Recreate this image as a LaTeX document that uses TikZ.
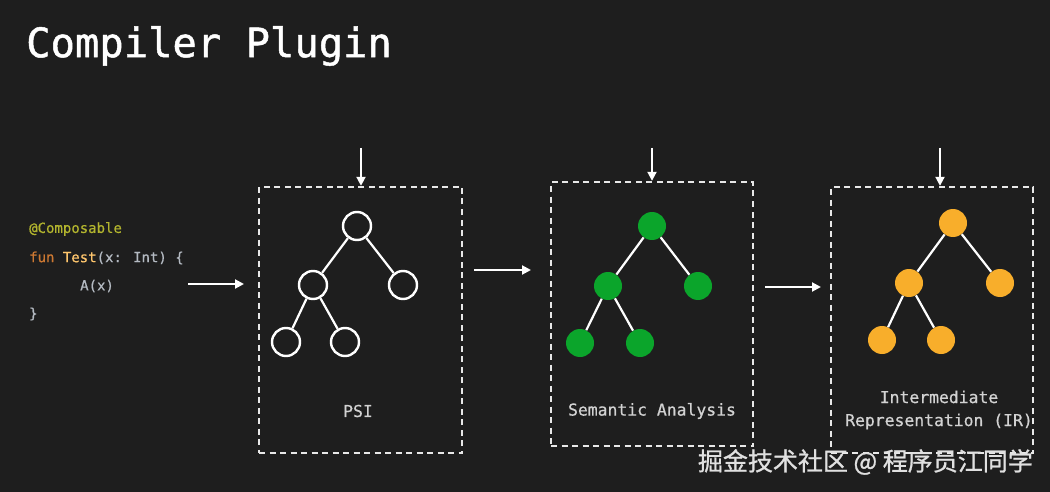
\documentclass[tikz,border=0pt]{standalone}
\usepackage{fontspec}
\setmonofont{DejaVu Sans Mono}
\newfontfamily\titlefont[FakeBold=1.2]{DejaVu Sans Mono}
\newfontfamily\lblfont[FakeBold=0.6]{DejaVu Sans Mono}
\newfontfamily\cjk[FakeBold=1]{Noto Sans CJK SC}
\usetikzlibrary{arrows.meta}
\definecolor{bg}{HTML}{1E1E1E}
\definecolor{codegray}{HTML}{B4BAC2}
\definecolor{lblgray}{HTML}{D2D2D2}
\definecolor{annot}{HTML}{B3B52E}
\definecolor{kw}{HTML}{CC7832}
\definecolor{fn}{HTML}{FFC66D}
\definecolor{tgreen}{HTML}{0BA52B}
\definecolor{torange}{HTML}{F8AE2B}
\definecolor{boxline}{HTML}{E8E8E8}
\tikzset{
  stagebox/.style={draw=boxline,line width=2.4pt,dash pattern=on 6pt off 4.5pt},
  flow/.style={draw=white,line width=2pt,-{Triangle[length=9pt,width=9pt]}},
  tnode/.style={circle,minimum size=28pt,inner sep=0pt},
  psinode/.style={tnode,draw=white,line width=2.4pt,fill=bg},
  semnode/.style={tnode,fill=tgreen},
  irnode/.style={tnode,fill=torange},
  edge/.style={draw=white,line width=2.2pt},
  lbl/.style={text=lblgray,font=\lblfont\fontsize{16.4}{19}\selectfont,align=center},
  code/.style={anchor=west,text=codegray,font=\lblfont\fontsize{14}{16}\selectfont,inner sep=0pt},
}
\begin{document}
\begin{tikzpicture}[x=1pt,y=-1pt]
\fill[bg] (0,0) rectangle (1050,492);
\useasboundingbox (0,0) rectangle (1050,492);
% title
\node[anchor=west,text=white,font=\titlefont\fontsize{40.5}{42}\selectfont,inner sep=0pt] (title) at (26,46) {Compiler Plugin};
% code
\node[code,text=annot] (c1) at (29,229) {@Composable};
\node[code] (c2) at (29,258) {\textcolor{kw}{fun} \textcolor{fn}{Test}(x: Int) \{};
\node[code] (c3) at (80,286) {A(x)};
\node[code] (c4) at (29,314) {\}};
% boxes
\node[stagebox,minimum width=203pt,minimum height=266pt,inner sep=0pt] (b1) at (360.5,320) {};
\node[stagebox,minimum width=202pt,minimum height=264pt,inner sep=0pt] (b2) at (652,314) {};
\node[stagebox,minimum width=202pt,minimum height=266pt,inner sep=0pt] (b3) at (932,320) {};
% top arrows
\coordinate (t1) at (361,148);
\coordinate (t2) at (652,148);
\coordinate (t3) at (940,148);
\draw[flow] (t1) -- (b1.north -| t1);
\draw[flow] (t2) -- (b2.north -| t2);
\draw[flow] (t3) -- (b3.north -| t3);
% horizontal arrows
\coordinate (h1a) at (188,284);
\coordinate (h1b) at (244,284);
\draw[flow] (h1a) -- (h1b);
\coordinate (h2a) at (474,270);
\coordinate (h2b) at (531,270);
\draw[flow] (h2a) -- (h2b);
\coordinate (h3a) at (765,287);
\coordinate (h3b) at (821,287);
\draw[flow] (h3a) -- (h3b);
% tree 1
\node[psinode] (p1) at (357,226) {};
\node[psinode] (p2) at (313,285) {};
\node[psinode] (p3) at (403,285) {};
\node[psinode] (p4) at (286,342) {};
\node[psinode] (p5) at (345,342) {};
\draw[edge] (p1) -- (p2); \draw[edge] (p1) -- (p3);
\draw[edge] (p2) -- (p4); \draw[edge] (p2) -- (p5);
\node[lbl] (l1) at (358,411) {PSI};
% tree 2
\node[semnode] (s1) at (652,226) {};
\node[semnode] (s2) at (608,286) {};
\node[semnode] (s3) at (698,286) {};
\node[semnode] (s4) at (580,343) {};
\node[semnode] (s5) at (640,343) {};
\draw[edge] (s1) -- (s2); \draw[edge] (s1) -- (s3);
\draw[edge] (s2) -- (s4); \draw[edge] (s2) -- (s5);
\node[lbl] (l2) at (652,411) {Semantic Analysis};
% tree 3
\node[irnode] (r1) at (953,223) {};
\node[irnode] (r2) at (909,283) {};
\node[irnode] (r3) at (1000,283) {};
\node[irnode] (r4) at (882,340) {};
\node[irnode] (r5) at (941,340) {};
\draw[edge] (r1) -- (r2); \draw[edge] (r1) -- (r3);
\draw[edge] (r2) -- (r4); \draw[edge] (r2) -- (r5);
\node[lbl,font=\lblfont\fontsize{16.4}{23}\selectfont] (l3) at (939,410) {Intermediate\\Representation (IR)};
% watermark
\node[anchor=east,text=white!88!black,font=\cjk\fontsize{25}{28}\selectfont,inner sep=0pt] (wm) at (1033,462) {掘金技术社区 @ 程序员江同学};
\end{tikzpicture}
\end{document}
